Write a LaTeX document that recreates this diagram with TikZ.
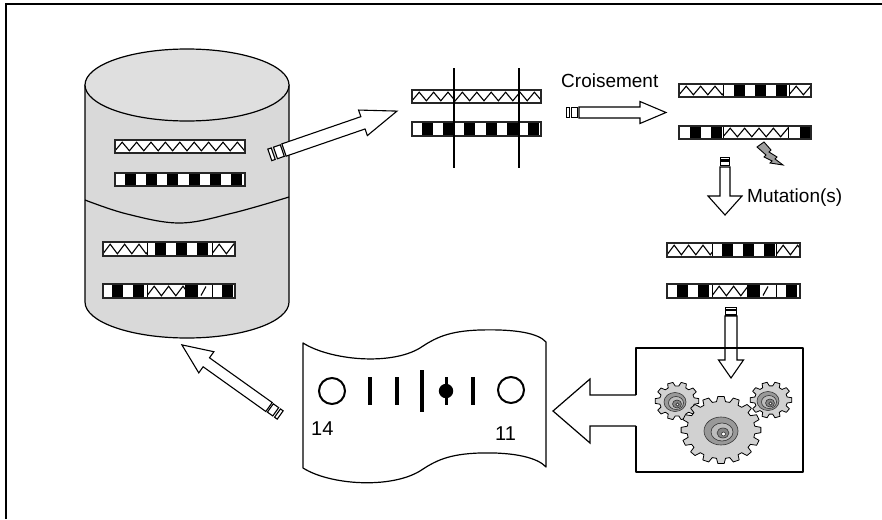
\documentclass[tikz,border=0pt]{standalone}
\usepackage{fontspec}
\setmainfont{Liberation Sans}
\usetikzlibrary{calc}

\definecolor{cylbody}{gray}{0.85}
\definecolor{cyltop}{gray}{0.875}
\definecolor{gearbody}{gray}{0.82}
\definecolor{hubdark}{gray}{0.6}
\definecolor{hubmid}{gray}{0.74}
\definecolor{hubdeep}{gray}{0.52}
\definecolor{boltfill}{gray}{0.62}

\tikzset{
  outline/.style={draw=black, line width=1.2pt, line join=round},
  barline/.style={draw=black!85, line width=1.4pt},
  arrowline/.style={draw=black, line width=1.1pt, fill=white, line join=miter},
  hubline/.style={draw=black!80, line width=0.6pt},
  lbl/.style={inner sep=0pt, font=\fontsize{19}{22}\selectfont},
  pics/stripearrow/.style n args={5}{code={
    % #1 length to tip, #2 shaft half width, #3 head half width,
    % #4 head length, #5 size of the two tail stripes
    \draw[arrowline] (0,-#2) -- ({#1-#4},-#2) -- ({#1-#4},-#3) -- (#1,0)
      -- ({#1-#4},#3) -- ({#1-#4},#2) -- (0,#2) -- cycle;
    \draw[arrowline] ({-0.3*#5},{-#2+0.4}) rectangle ({-1.5*#5},{#2-0.4});
    \draw[arrowline] ({-1.9*#5},{-#2+0.4}) rectangle ({-2.5*#5},{#2-0.4});
  }}
}

% chromosome pieces: left x, right x, top y, bottom y
\newcommand\zigseg[4]{%
  \begin{scope}
    \clip (#1,#3) rectangle (#2,#4);
    \fill[white] (#1,#3) rectangle (#2,#4);
    \draw[line width=1.1pt, line join=miter] (#1,{#4-2.2})
      \foreach \k in {0,...,12}{ -- ({#1+\k*14.4+7.2},{#3+2.2}) -- ({#1+\k*14.4+14.4},{#4-2.2}) };
  \end{scope}}
\newcommand\chkseg[5]{%
  \begin{scope}
    \clip (#1,#3) rectangle (#2,#4);
    \fill[white] (#1,#3) rectangle (#2,#4);
    \foreach \k in {0,...,7}
      \fill ({#1+#5+\k*21.2},{#3+1}) rectangle ({#1+#5+\k*21.2+11},{#4-1});
  \end{scope}}
\newcommand\blkseg[4]{\fill (#1,#3) rectangle (#2,#4);}
\newcommand\slashseg[4]{%
  \fill[white] (#1,#3) rectangle (#2,#4);
  \draw[line width=1.1pt] ({#1+3},{#4-2.5}) -- ({#1+8},{#3+2.5});}
\newcommand\segsep[3]{\draw[line width=0.7pt] (#1,#2) -- (#1,#3);}
\newcommand\barbox[4]{\draw[barline] (#1,#3) rectangle (#2,#4);}

% gear: centre, outer radius, tooth depth, number of teeth, vertical squeeze
\newcommand\gearwheel[5]{%
  \begin{scope}[shift={#1}, yscale=#5]
    \pgfmathsetmacro\gearstep{360/#4}
    \filldraw[fill=gearbody, draw=black, line width=0.8pt, line join=round]
      ({-0.2*\gearstep}:#2)
      \foreach \i in {1,...,#4}{
        -- ({(\i-1)*\gearstep+0.2*\gearstep}:#2)
        -- ({(\i-1)*\gearstep+0.34*\gearstep}:{#2-#3})
        -- ({(\i-1)*\gearstep+0.66*\gearstep}:{#2-#3})
        -- ({(\i-1)*\gearstep+0.8*\gearstep}:#2) } -- cycle;
  \end{scope}}

\begin{document}
\begin{tikzpicture}[x=1pt, y=-1pt]
\useasboundingbox (0,0) rectangle (882,519);

% page frame (left and top edges)
\draw[line width=2pt] (6,519) -- (6,4) -- (882,4);

% ---------- population database ----------
\filldraw[outline, fill=cylbody] (85,85) -- (85,302)
  .. controls (85,322) and (131,338) .. (187,338)
  .. controls (243,338) and (289,322) .. (289,302) -- (289,85) -- cycle;
\filldraw[outline, fill=cyltop] (187,85) ellipse [x radius=102, y radius=36];
\draw[outline] plot[smooth, tension=0.6] coordinates {(85,200) (127,214) (180,223) (233,213) (289,197)};

% parents in the database
\zigseg{115}{245}{140}{153}\barbox{115}{245}{140}{153}
\chkseg{115}{245}{173}{186}{10}\barbox{115}{245}{173}{186}
% children in the database
\zigseg{103}{147}{242}{256}\chkseg{147}{212}{242}{256}{8}\zigseg{212}{235}{242}{256}
\segsep{147}{242}{256}\segsep{212}{242}{256}\barbox{103}{235}{242}{256}
\chkseg{103}{147}{284}{298}{9}\zigseg{147}{185}{284}{298}\blkseg{185}{198}{284}{298}
\slashseg{198}{212}{284}{298}\chkseg{212}{235}{284}{298}{10}
\segsep{147}{284}{298}\segsep{212}{284}{298}\barbox{103}{235}{284}{298}

% ---------- selection arrow ----------
\coordinate (dbout) at (284,150);
\pic[rotate=19] at (dbout) {stripearrow={119.5}{6.5}{13.5}{36}{6}};

% ---------- parents with cut points ----------
\zigseg{412}{541}{90}{103}\barbox{412}{541}{90}{103}
\chkseg{412}{541}{122}{136}{10}\barbox{412}{541}{122}{136}
\draw[line width=1.3pt] (454,68) -- (454,168);
\draw[line width=1.3pt] (519,68) -- (519,168);

% ---------- crossover ----------
\node[lbl, anchor=base west] (croisement) at (561,87) {Croisement};
\coordinate (crossout) at (579,112.5);
\pic at (crossout) {stripearrow={87}{5.5}{11}{26}{5}};

\zigseg{679}{723}{84}{97}\chkseg{723}{789}{84}{97}{11}\zigseg{789}{811}{84}{97}
\segsep{723}{84}{97}\segsep{789}{84}{97}\barbox{679}{811}{84}{97}
\chkseg{679}{723}{126}{139}{11}\zigseg{723}{788}{126}{139}\chkseg{788}{811}{126}{139}{12}
\segsep{723}{126}{139}\segsep{788}{126}{139}\barbox{679}{811}{126}{139}

% mutation spark
\filldraw[fill=boltfill, draw=black, line width=0.9pt, line join=miter]
  (757,147) -- (764,142) -- (771,150) -- (769,152) -- (777,157) -- (775,159)
  -- (783,165) -- (770,163) -- (772,161) -- (764,157) -- (766,155) -- cycle;

% ---------- mutation ----------
\coordinate (mutout) at (725,167);
\pic[rotate=-90] at (mutout) {stripearrow={48}{5}{17}{19}{3.7}};
\node[lbl, anchor=base west] (mutation) at (747,202) {Mutation(s)};

\zigseg{667}{712}{243}{257}\chkseg{712}{776}{243}{257}{10}\zigseg{776}{800}{243}{257}
\segsep{712}{243}{257}\segsep{776}{243}{257}\barbox{667}{800}{243}{257}
\chkseg{667}{712}{284}{298}{10}\zigseg{712}{747}{284}{298}\blkseg{747}{760}{284}{298}
\slashseg{760}{776}{284}{298}\chkseg{776}{800}{284}{298}{10}
\segsep{712}{284}{298}\segsep{776}{284}{298}\barbox{667}{800}{284}{298}

\coordinate (evalin) at (731,316);
\pic[rotate=-90] at (evalin) {stripearrow={62}{6}{12.5}{18}{3.5}};

% ---------- evaluation machine ----------
\draw[outline] (636,395) -- (636,348) -- (803,348) -- (803,472) -- (636,472) -- (636,426);
\draw[outline, line join=miter] (636,395) -- (590,395) -- (590,379) -- (553,411)
  -- (590,443) -- (590,426) -- (636,426);

\gearwheel{(677,401)}{22}{4.5}{10}{0.86}
\gearwheel{(771,400)}{21}{4.5}{10}{0.86}
\foreach \cx/\cy in {675/402, 768/401}{
  \filldraw[hubline, fill=hubdark] (\cx,\cy) ellipse [x radius=11, y radius=9.5];
  \filldraw[hubline, fill=hubmid] ({\cx+1},{\cy+1}) ellipse [x radius=7.5, y radius=6.5];
  \filldraw[hubline, fill=hubdeep] ({\cx+2},{\cy+2}) ellipse [x radius=4.5, y radius=4];
  \filldraw[hubline, fill=white] ({\cx+2.5},{\cy+2.5}) circle [radius=1.6];
}
\gearwheel{(721,430)}{40}{6}{16}{0.84}
\filldraw[hubline, fill=hubdark] (721,431) ellipse [x radius=17, y radius=14];
\filldraw[hubline, fill=hubmid] (722,432) ellipse [x radius=11, y radius=9];
\filldraw[hubline, fill=hubdeep] (723,433) ellipse [x radius=6, y radius=5];
\filldraw[hubline, fill=white] (723.5,434) circle [radius=2];

% ---------- result strip ----------
\filldraw[outline, fill=white] (303,343)
  .. controls (330,360) and (390,366) .. (420,348)
  .. controls (435,338) and (448,331) .. (480,330)
  .. controls (515,329) and (538,333) .. (546,342)
  -- (546,467)
  .. controls (538,458) and (515,452) .. (480,453)
  .. controls (448,454) and (435,461) .. (420,471)
  .. controls (390,489) and (330,485) .. (303,468) -- cycle;
\draw[line width=2pt] (332,391) circle [radius=13];
\draw[line width=2pt] (511,390) circle [radius=13];
\draw[line width=3.5pt] (370,377) -- (370,405);
\draw[line width=3.5pt] (397,377) -- (397,405);
\draw[line width=3.5pt] (422,370) -- (422,412);
\draw[line width=3.5pt] (446.5,377) -- (446.5,405);
\fill (446,391) circle [radius=7.2];
\draw[line width=3.5pt] (473,377) -- (473,405);
\node[lbl, anchor=base west, font=\fontsize{20}{24}\selectfont] (n14) at (311,435) {14};
\node[lbl, anchor=base west, font=\fontsize{20}{24}\selectfont] (n11) at (495,440) {11};

% ---------- back into the population ----------
\coordinate (stripout) at (269,407);
\pic[rotate=144.5] at (stripout) {stripearrow={107}{5.5}{13}{30}{5.5}};

\end{tikzpicture}
\end{document}
